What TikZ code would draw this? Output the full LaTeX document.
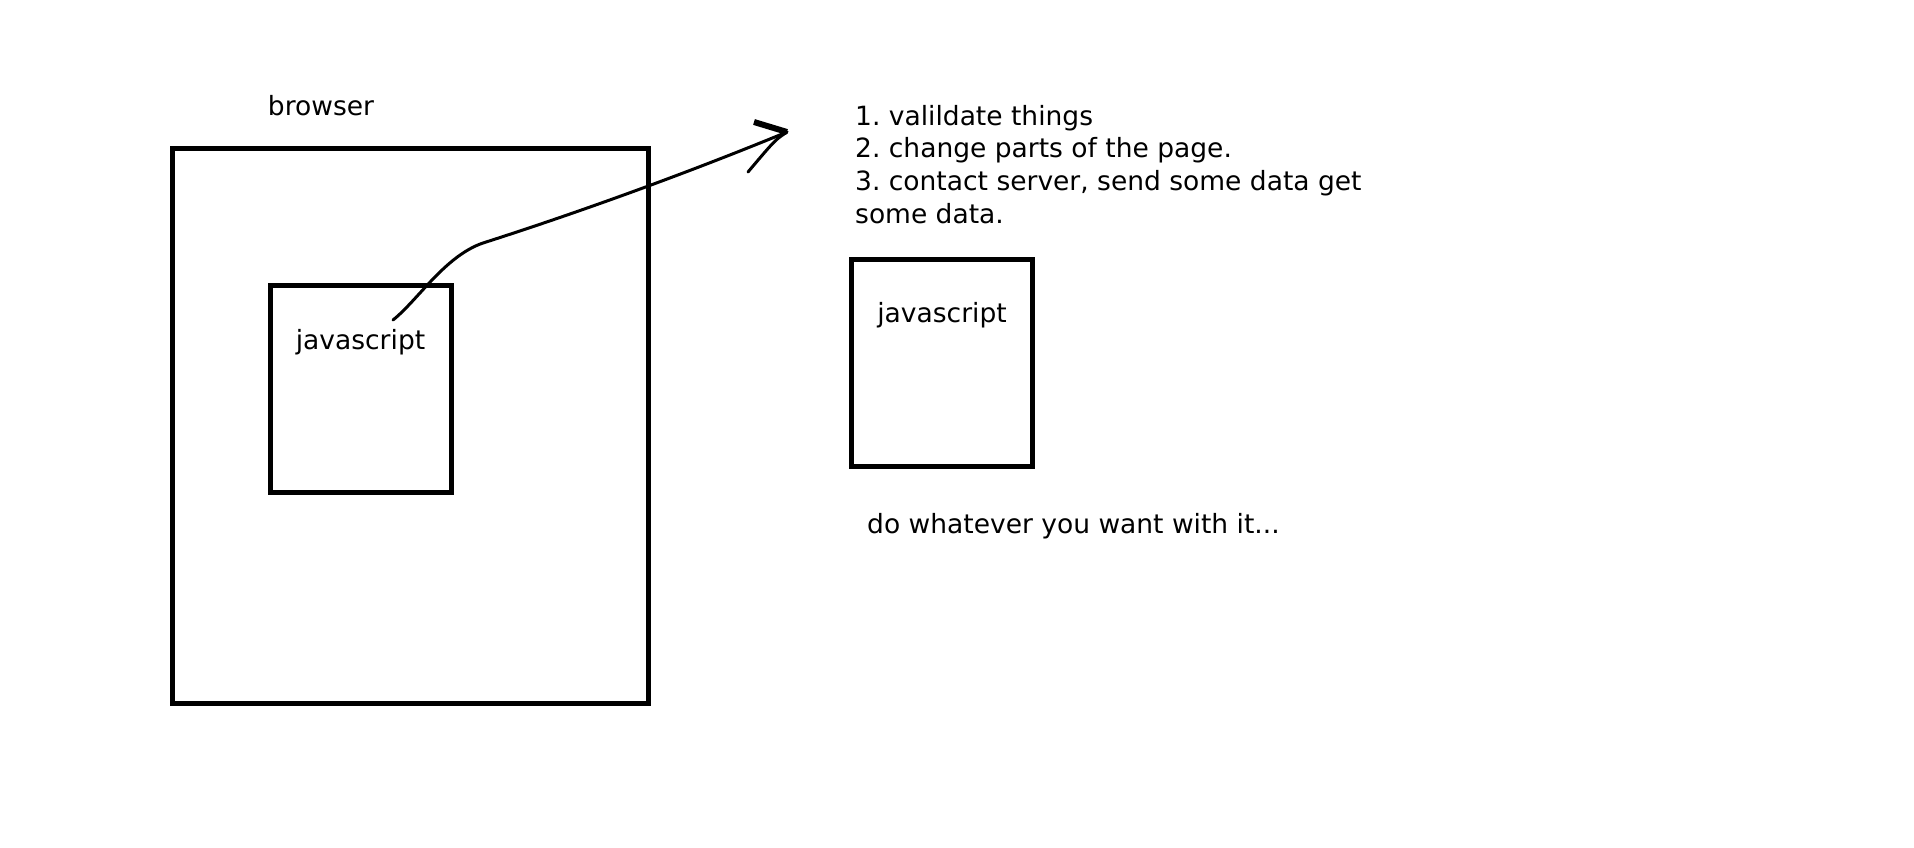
\documentclass[tikz,border=0pt]{standalone}
\usepackage{fontspec}
\setmainfont{DejaVu Sans}
\frenchspacing

\begin{document}
\begin{tikzpicture}[x=1pt,y=-1pt,
	box/.style={draw,line width=5pt,inner sep=0pt,minimum width=181pt,minimum height=207pt},
	txt/.style={inner sep=0pt,font=\fontsize{26.5}{32.7}\selectfont}]
	\useasboundingbox (0,0) rectangle (1914,847);
	% boxes
	\node[box,minimum width=476pt,minimum height=555pt] (browser) at (410.3,425.7) {};
	\node[box] (js) at (360.5,388.5) {};
	\node[box] (js2) at (942,363) {};
	% labels
	\node[txt,anchor=base] (browserlbl) at (321,115.5) {browser};
	\node[txt,anchor=base] (jslbl) at ([yshift=-67pt]js.north) {javascript};
	\node[txt,anchor=base] (js2lbl) at ([yshift=-65.5pt]js2.north) {javascript};
	\foreach \t [count=\i] in {{1. valildate things},{2. change parts of the page.},{3. contact server, send some data get},{some data.}}
		\node[txt,anchor=base west] (item\i) at (855,125+32.7*\i-32.7) {\t};
	\node[txt,anchor=base west] (whatever) at (867,533) {do whatever you want with it{.}{.}{.}};
	% the scribbled arrow
	\coordinate (from) at (393,320);
	\coordinate (tip) at (787,132);
	\draw[line width=3pt,line cap=round] (from) .. controls (418,300) and (445,256) .. (483,243)
		.. controls (580,212) and (690,172) .. (tip);
	\draw[line width=6pt] ([shift={(-33,-10)}]tip) -- (tip);
	\draw[line width=3pt,line cap=round] (tip) .. controls ([shift={(-12,8)}]tip) .. ([shift={(-39,40)}]tip);
\end{tikzpicture}
\end{document}
